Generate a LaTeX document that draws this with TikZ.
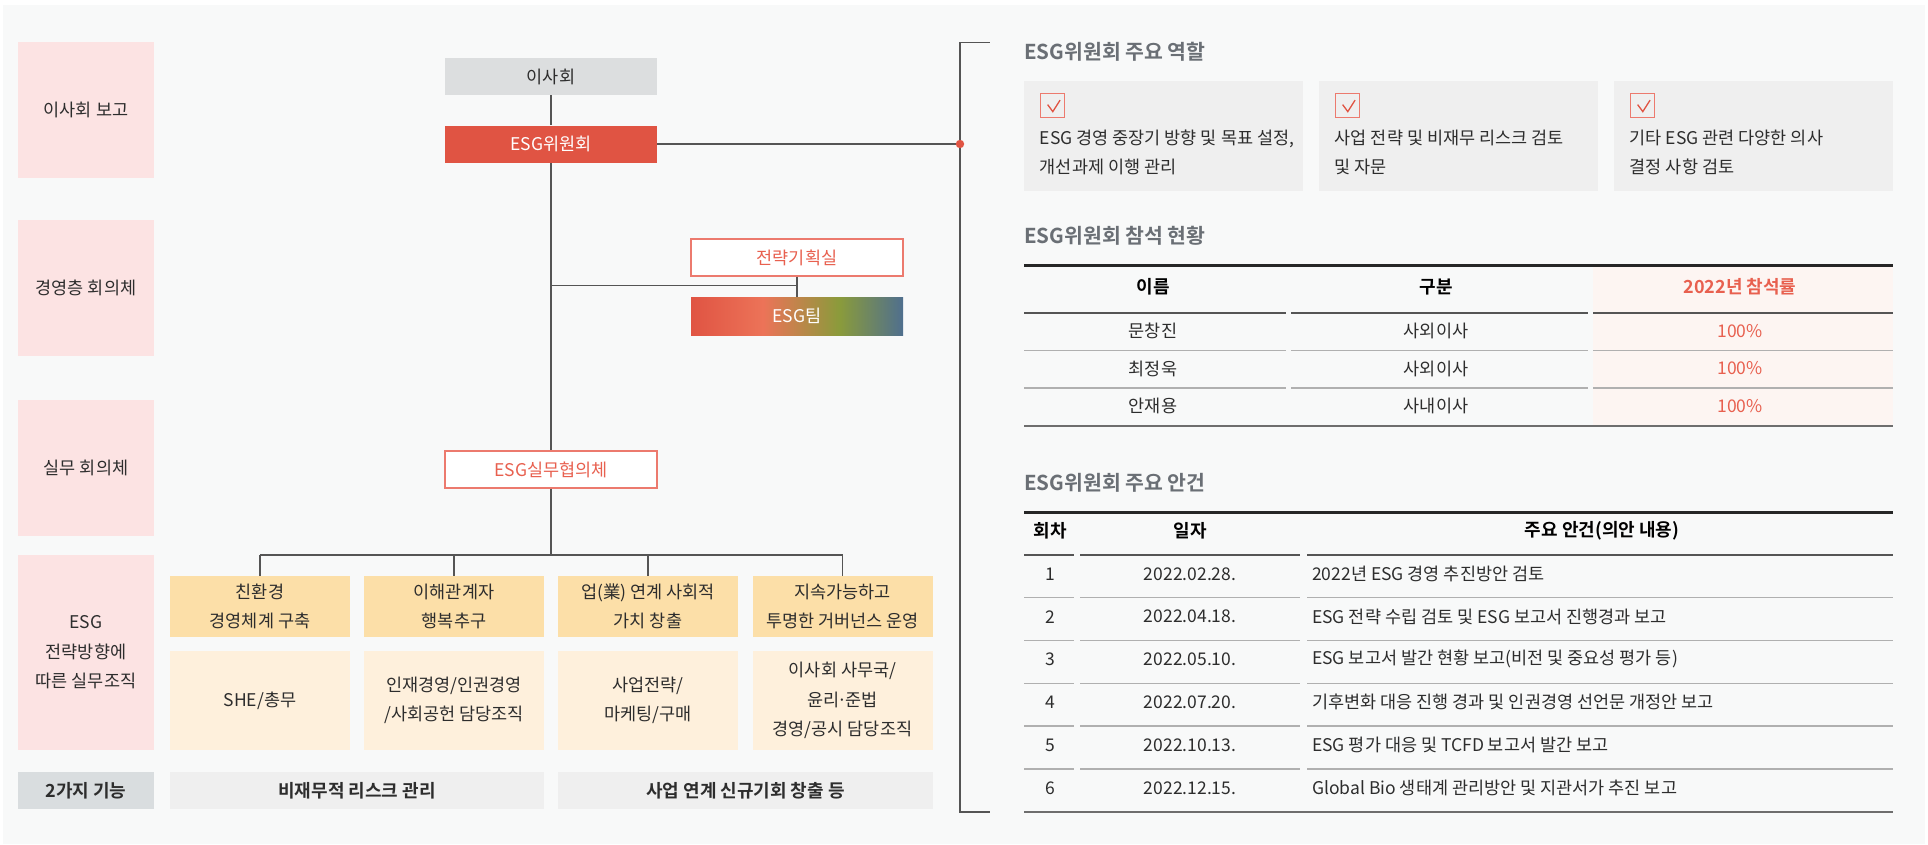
\documentclass[tikz,border=0pt]{standalone}
\usepackage{fontspec}
\setmainfont{Noto Sans CJK KR}[BoldFont={Noto Sans CJK KR Bold}]
\usepackage{tikz}
\usetikzlibrary{positioning,calc}
\usepackage{xcolor}
\definecolor{pagebg}{RGB}{248,249,249}
\definecolor{labelpink}{RGB}{252,227,227}
\definecolor{boardgray}{RGB}{220,222,223}
\definecolor{esgred}{RGB}{224,84,67}
\definecolor{salmonline}{RGB}{236,122,110}
\definecolor{salmontext}{RGB}{232,96,79}
\definecolor{linegray}{RGB}{85,85,85}
\definecolor{dirorange}{RGB}{252,223,168}
\definecolor{unitcream}{RGB}{254,240,220}
\definecolor{funcgray}{RGB}{239,239,239}
\definecolor{headgray}{RGB}{217,221,223}
\definecolor{titlegray}{RGB}{106,111,117}
\definecolor{pinkcell}{RGB}{253,245,242}
\definecolor{textdark}{RGB}{45,45,45}
\definecolor{rulegray}{RGB}{176,176,176}
\definecolor{teamorange}{RGB}{236,115,88}
\definecolor{teamolive}{RGB}{138,155,59}
\definecolor{teamblue}{RGB}{79,111,142}
\pgfdeclarehorizontalshading{teamshade}{100bp}{color(0bp)=(esgred); color(25bp)=(esgred); color(42bp)=(teamorange); color(60bp)=(teamolive); color(75bp)=(teamblue); color(100bp)=(teamblue)}

\begin{document}
\begin{tikzpicture}[
    x=1pt, y=-1pt,
    every node/.style={font=\fontsize{17.5}{29.5}\selectfont, text=textdark, inner sep=0pt},
    level/.style={rectangle, fill=labelpink, minimum width=136, align=center},
    orgbox/.style={rectangle, minimum width=212, minimum height=37},
    orgline/.style={draw=linegray, line width=1.4},
    dirbox/.style={rectangle, fill=dirorange, minimum width=180, minimum height=61, align=center},
    unitbox/.style={rectangle, fill=unitcream, minimum width=180, minimum height=99, align=center},
    funcbox/.style={rectangle, fill=funcgray, minimum height=37, font=\fontsize{18}{20}\selectfont\bfseries},
    sectitle/.style={anchor=west, text=titlegray, font=\fontsize{20.5}{24}\selectfont\bfseries},
    rolebox/.style={rectangle, fill=funcgray, minimum width=279, minimum height=110, anchor=north west},
    checkbox/.style={rectangle, draw=salmonline, line width=1.2, minimum size=24, anchor=north west},
    roletext/.style={anchor=west, align=left, font=\fontsize{17.5}{28.7}\selectfont},
    headcell/.style={font=\fontsize{18}{20}\selectfont\bfseries, text=black},
    toprule/.style={draw=black!85, line width=3},
    midrule/.style={draw=linegray, line width=2},
    rowrule/.style={draw=rulegray, line width=1.4},
    botrule/.style={draw=linegray!85, line width=2.2}
]

% Canvas
\useasboundingbox (0,0) rectangle (1928,844);
\fill[pagebg] (3,5) rectangle (1925,844);

% Level labels on the left
\foreach \y/\h/\lbl/\txt in {110/136/lvboard/이사회 보고, 288/136/lvexec/경영층 회의체, 468/136/lvwork/실무 회의체, 652.5/195/lvorg/{ESG\\전략방향에\\따른 실무조직}} {
    \node[level, minimum height=\h] (\lbl) at (86,\y) {\txt};
}

% Organisation chart
\node[orgbox, fill=boardgray] (board) at (551,76.5) {이사회};
\node[orgbox, fill=esgred, text=white] (committee) at (551,144) {ESG위원회};
\node[orgbox, draw=salmonline, line width=1.2, fill=white, text=salmontext] (planning) at (797,257.5) {전략기획실};
\node[orgbox, shade, shading=teamshade, minimum height=38, text=white] (team) at (797,316) {ESG팀};
\node[orgbox, draw=salmonline, line width=1.2, fill=white, text=salmontext] (council) at (551,469.5) {ESG실무협의체};

\draw[orgline] (board) -- (committee);
\draw[orgline] (committee) -- (council);
\coordinate (junction) at (551,285.7);
\draw[orgline] (junction) -- (junction -| team.north);
\draw[orgline] (planning) -- (team);

% Strategic direction and working units
\foreach \x/\lbl/\txt in {260/dir1/{친환경\\경영체계 구축}, 454/dir2/{이해관계자\\행복추구}, 648/dir3/{업(業) 연계 사회적\\가치 창출}, 842.5/dir4/{지속가능하고\\투명한 거버넌스 운영}} {
    \node[dirbox] (\lbl) at (\x,606.5) {\txt};
}
\foreach \x/\lbl/\txt in {260/unit1/{SHE/총무}, 454/unit2/{인재경영/인권경영\\/사회공헌 담당조직}, 648/unit3/{사업전략/\\마케팅/구매}, 842.5/unit4/{이사회 사무국/\\윤리\kern-0.12em·\kern-0.12em준법\\경영/공시 담당조직}} {
    \node[unitbox] (\lbl) at (\x,700.5) {\txt};
}

\coordinate (split) at (551,555);
\draw[orgline] (council) -- (split);
\draw[orgline] (dir1.north |- split) -- (dir4.north |- split);
\foreach \n in {dir1,dir2,dir3,dir4}
    \draw[orgline] (\n.north |- split) -- (\n.north);

% Two functions
\node[funcbox, fill=headgray, minimum width=136] (fhead) at (86,790.5) {2가지 기능};
\node[funcbox, minimum width=374] (frisk) at (357,790.5) {비재무적 리스크 관리};
\node[funcbox, minimum width=375] (fbiz) at (745.5,790.5) {사업 연계 신규기회 창출 등};

% Bracket to the right panel
\coordinate (hub) at (960,144);
\draw[orgline] (committee) -- (hub);
\draw[orgline] (989.7,42.7) -- (960,42.7) -- (960,812) -- (989.7,812);
\fill[esgred] (hub) circle (4.2);

% Roles
\node[sectitle] (roletitle) at (1024,52) {ESG위원회 주요 역할};
\foreach \x/\lbl/\txt in {1024/role1/{ESG 경영 중장기 방향 및 목표 설정,\\개선과제 이행 관리}, 1319/role2/{사업 전략 및 비재무 리스크 검토\\및 자문}, 1614/role3/{기타 ESG 관련 다양한 의사\\결정 사항 검토}} {
    \node[rolebox] (\lbl) at (\x,81) {};
    \node[checkbox] (\lbl-chk) at (\x+15.5,93) {};
    \draw[esgred, line width=1.3] ($(\lbl-chk.center)+(-4.5,-1)$) -- ($(\lbl-chk.center)+(0.7,6)$) -- ($(\lbl-chk.center)+(8,-5.5)$);
    \node[roletext] (\lbl-txt) at (\x+15.6,152.3) {\txt};
}

% Attendance table
\node[sectitle] (attendtitle) at (1024,235.7) {ESG위원회 참석 현황};
\fill[pinkcell] (1593,265.7) rectangle (1893,425.7);
\draw[toprule] (1024,265.7) -- (1893,265.7);
\foreach \a/\b in {1024/1286, 1291/1588, 1593/1893} {
    \draw[midrule] (\a,312.7) -- (\b,312.7);
    \draw[rowrule] (\a,350.3) -- (\b,350.3);
    \draw[rowrule] (\a,388) -- (\b,388);
}
\draw[botrule] (1024,425.7) -- (1893,425.7);
\node[headcell] (hname) at (1153,287) {이름};
\node[headcell] (htype) at (1436,287) {구분};
\node[headcell, text=salmontext] (hrate) at (1740,287) {2022년 참석률};
\foreach \y/\no/\who/\kind in {331/1/문창진/사외이사, 368.5/2/최정욱/사외이사, 405.7/3/안재용/사내이사} {
    \node (name\no) at (1153,\y) {\who};
    \node (type\no) at (1436,\y) {\kind};
    \node[text=salmontext] (rate\no) at (1740,\y) {100\%};
}

% Agenda table
\node[sectitle] (agendatitle) at (1024,482.7) {ESG위원회 주요 안건};
\draw[toprule] (1024,512) -- (1893,512);
\foreach \a/\b in {1024/1074, 1080/1300, 1307/1893} {
    \draw[midrule] (\a,555) -- (\b,555);
    \foreach \r in {597.7, 640.7, 683.3, 726, 769}
        \draw[rowrule] (\a,\r) -- (\b,\r);
}
\draw[botrule] (1024,811.7) -- (1893,811.7);
\node[headcell] (hround) at (1050.5,531) {회차};
\node[headcell] (hdate) at (1190,531) {일자};
\node[headcell] (hitem) at (1602,531) {주요 안건(의안 내용)};
\foreach \y/\no/\dt/\txt in {574/1/2022.02.28./2022년 ESG 경영 추진방안 검토, 616.7/2/2022.04.18./ESG 전략 수립 검토 및 ESG 보고서 진행경과 보고, 659.3/3/2022.05.10./{ESG 보고서 발간 현황 보고(비전 및 중요성 평가 등)}, 702.3/4/2022.07.20./기후변화 대응 진행 경과 및 인권경영 선언문 개정안 보고, 745.3/5/2022.10.13./ESG 평가 대응 및 TCFD 보고서 발간 보고, 788.3/6/2022.12.15./Global Bio 생태계 관리방안 및 지관서가 추진 보고} {
    \node (round\no) at (1050.5,\y) {\no};
    \node (date\no) at (1190,\y) {\dt};
    \node[anchor=west] (item\no) at (1312,\y) {\txt};
}

\end{tikzpicture}
\end{document}
